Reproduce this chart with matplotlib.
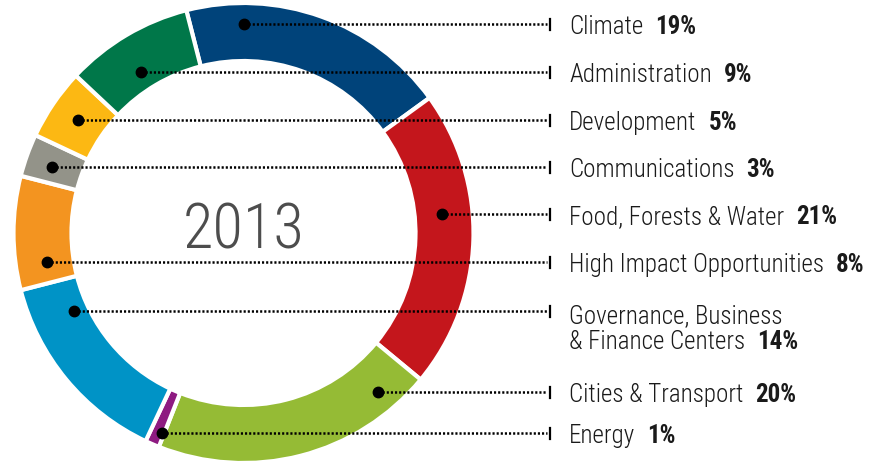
import numpy as np
import matplotlib
matplotlib.use("Agg")
import matplotlib.pyplot as plt

# Data
CATEGORIES = ["Climate", "Food, Forests & Water", "Cities & Transport", "Energy",
              "Governance, Business\n& Finance Centers", "High Impact Opportunities",
              "Communications", "Development", "Administration"]
SHARES = [19, 21, 20, 1, 14, 8, 3, 5, 9]
COLORS = ["#00437a", "#c4161c", "#95bb35", "#8e1a81", "#0093c6",
          "#f39420", "#939389", "#fcb813", "#007749"]
YEAR = "2013"

# label order on the right, top to bottom (index into CATEGORIES)
LABEL_ORDER = [0, 8, 7, 6, 1, 5, 4, 2, 3]
ROW_Y = [25, 73, 121, 168, 215, 263, 312, 393, 434]
# where each leader dot sits on the ring (radius px, side of centre)
DOT_R = [208, 191, 200, 203, 199, 199, 187, 208, 216]
DOT_SIDE = [1, -1, -1, -1, 1, -1, -1, 1, -1]

W, H = 884, 464
CX, CY = 243.5, 234
R_OUT, R_IN = 230, 172
FONT = 'Roboto Condensed'
FS = 18

fig = plt.figure(figsize=(W / 100, H / 100), dpi=100)
ax = fig.add_axes([0, 0, 1, 1])

# donut, clockwise from just left of the top
ax.pie(SHARES, colors=COLORS, radius=R_OUT, center=(CX, H - CY),
       startangle=90 + 14.4, counterclock=False,
       wedgeprops=dict(width=R_OUT - R_IN, edgecolor='white', linewidth=3),
       frame=True)
ax.set_xlim(0, W)
ax.set_ylim(0, H)
ax.set_aspect('equal')
ax.axis('off')

ax.text(CX, H - 249, YEAR, ha='center', va='baseline', fontsize=45,
        color='#4d4d4d', family=FONT, fontweight='light')

renderer = fig.canvas.get_renderer()
x_end = 550
x_text = 569
for row, idx in enumerate(LABEL_ORDER):
    y = H - ROW_Y[row]
    dy = ROW_Y[row] - CY
    dx = DOT_SIDE[row] * np.sqrt(max(DOT_R[row] ** 2 - dy ** 2, 0))
    x0 = CX + dx
    ax.plot([x0, x_end - 3], [y, y], color='black', lw=1.8,
            linestyle=(0, (0.85, 0.8)), dash_capstyle='butt', zorder=5)
    ax.plot(x0, y, 'o', color='black', ms=7.5, zorder=6)
    ax.plot([x_end, x_end], [y - 5.5, y + 5.5], color='black', lw=1.6, zorder=5)

    lines = CATEGORIES[idx].split('\n')
    base = y - 9
    if len(lines) == 2:
        ax.text(x_text, base - 2, lines[0], ha='left', va='baseline',
                fontsize=FS, family=FONT, fontweight='light', color='#1a1a1a')
        base = base - 28
    t = ax.text(x_text, base, lines[-1], ha='left', va='baseline',
                fontsize=FS, family=FONT, fontweight='light', color='#1a1a1a')
    bb = t.get_window_extent(renderer)
    ax.text(bb.x1 + 12, base, f"{SHARES[idx]}%", ha='left', va='baseline',
            fontsize=FS, family=FONT, fontweight='bold', color='#1a1a1a')

fig.savefig('out.png', dpi=100)
